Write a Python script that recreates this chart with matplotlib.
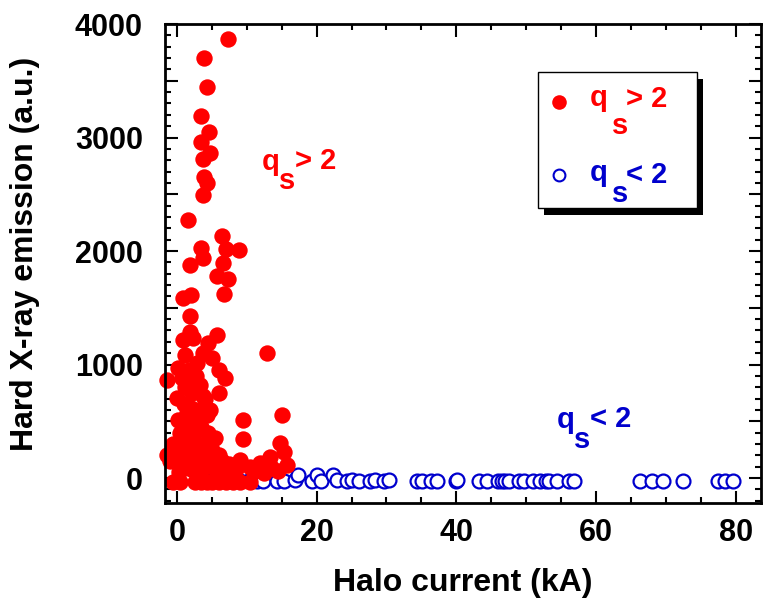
import matplotlib
matplotlib.use("Agg")
import matplotlib.pyplot as plt
from matplotlib.patches import Rectangle
from matplotlib.ticker import MultipleLocator, FuncFormatter

plt.rcParams['font.family'] = ['Liberation Sans', 'DejaVu Sans']
plt.rcParams['font.weight'] = 'bold'

# q_s > 2 : halo current (kA), hard X-ray emission (a.u.)
red_x = [7.3, 3.9, 4.3, 3.4, 4.6, 3.4, 4.7, 3.7, 3.9, 4.3, 3.7, 1.6, 6.4, 3.4, 3.7,
         7.1, 8.9, 1.9, 6.6, 5.7, 7.3, 6.7, 0.9, 2.0, 1.9, 1.9, 0.9, 2.3, 5.7, 4.4,
         1.1, 3.7, 5.0, 12.9, 0.1, 2.9, 6.1, 1.9, -1.4, 6.9, 6.0, 3.7, 0.0, 1.4, 9.4,
         15.1, 0.1, 4.3, 2.9, 9.4, 5.0, 14.7, 15.4, -1.4, 9.0, 13.3, 0.0, 1.9, 3.3,
         11.9, 10.4, 15.7, 8.0, 6.4,
         1.0, 2.0, 3.0, 1.5, 2.5, 3.5, 4.5, 0.5, 1.0, 2.0, 3.0, 4.0, 5.0, 0.5, 1.5,
         2.5, 3.5, 4.5, 6.0, 1.0, 2.0, 3.0, 4.0, 5.5, 0.3, -0.5, -1.0, 0.0, 2.2, 1.2,
         3.3, 4.0, 1.8, 0.8, 2.8, 4.8, 5.5, 6.5, 7.5, 7.0, 8.5, 11.0, 12.5, 14.5, 13.5,
         -0.6, 0.4, 2.6, 3.5, 4.3, 5.0, 6.1, 7.0, 8.0, 9.0, 10.4]
red_y = [3868, 3700, 3445, 3189, 3048, 2960, 2863, 2811, 2652, 2599, 2493, 2273, 2132, 2026, 1938,
         2018, 2009, 1877, 1894, 1780, 1753, 1621, 1586, 1612, 1427, 1286, 1216, 1233, 1260, 1189,
         1084, 1101, 1057, 1101, 969, 1013, 952, 863, 863, 881, 749, 722, 705, 573, 511,
         555, 511, 555, 423, 344, 335, 308, 229, 203, 159, 185, 159, 185, 141,
         132, 97, 115, 44, 0,
         650, 620, 600, 480, 520, 450, 400, 400, 300, 350, 300, 280, 250, 200, 150,
         220, 180, 150, 200, 100, 80, 60, 100, 80, 50, 300, 150, 250, 750, 800,
         820, 700, 950, 880, 900, 600, 350, 150, 120, 50, 80, 60, 40, 60, 100,
         -35, -35, -35, -35, -35, -35, -35, -35, -35, -35, -35]

# q_s < 2
blue_x = [4.5, 6.0, 7.5, 9.0, 10.5, 11.5, 12.3, 14.3, 15.4, 16.9, 17.3, 19.4, 20.0, 20.6,
          22.4, 22.9, 24.4, 25.1, 26.1, 27.6, 28.3, 29.7, 30.4, 34.3, 35.1, 36.4, 37.3,
          40.0, 40.1, 43.3, 44.4, 45.9, 46.6, 46.9, 47.6, 49.0, 49.7, 50.9, 51.9, 52.9,
          53.3, 54.4, 56.1, 56.9, 66.3, 68.0, 69.6, 72.4, 77.5, 78.4, 79.6]
blue_y = [-25, -25, -25, -25, -20, -25, -25, -25, -25, -20, 25, -25, 30, -25,
          30, -20, -25, -20, -25, -25, -20, -25, -20, -25, -25, -25, -25,
          -25, -20, -25, -25, -25, -25, -30, -30, -30, -30, -30, -30, -30,
          -30, -30, -30, -30, -30, -30, -30, -30, -30, -30, -30]

RED = '#ff0000'
BLUE = '#0000cd'
FS = 22


def qs_text(ax, xy, coords, sign, color, s_off, rest_off, size=21):
    """q, lowered subscript s and the '> 2' / '< 2' part."""
    kw = dict(xycoords=coords, textcoords='offset points', color=color,
              fontsize=size, fontweight='bold', ha='left', va='baseline', zorder=8)
    ax.annotate('q', xy, xytext=(0, 0), **kw)
    ax.annotate('s', xy, xytext=s_off, **kw)
    ax.annotate(sign + ' 2', xy, xytext=rest_off, **kw)


fig = plt.figure(figsize=(7.63, 6.06), dpi=100)
ax = fig.add_axes([165 / 763, 103 / 606, 596 / 763, 479 / 606])

ax.plot(blue_x, blue_y, 'o', ms=10, mfc='white', mec=BLUE, mew=1.6, clip_on=False)
ax.plot(red_x, red_y, 'o', ms=11.8, color=RED, mec=RED, mew=0, clip_on=False)

ax.set_xlim(-1.7, 83.6)
ax.set_ylim(-220, 4000)

ax.xaxis.set_major_locator(MultipleLocator(20))
ax.xaxis.set_minor_locator(MultipleLocator(5))
ax.yaxis.set_major_locator(MultipleLocator(500))
ax.yaxis.set_minor_locator(MultipleLocator(100))
ax.yaxis.set_major_formatter(FuncFormatter(lambda v, p: f'{v:.0f}' if v % 1000 == 0 else ''))

ax.tick_params(which='both', direction='in', top=True, right=True, width=1.5)
ax.tick_params(which='major', length=9)
ax.tick_params(which='minor', length=4.5)
ax.tick_params(axis='x', labelsize=FS, pad=11)
ax.tick_params(axis='y', labelsize=FS, pad=16)
for lab in ax.get_xticklabels() + ax.get_yticklabels():
    lab.set_fontweight('bold')
for sp in ax.spines.values():
    sp.set_linewidth(2)

ax.set_xlabel('Halo current (kA)', fontsize=23, fontweight='bold', labelpad=14)
ax.set_ylabel('Hard X-ray emission (a.u.)', fontsize=23, fontweight='bold')
ax.yaxis.set_label_coords(-0.21, 0.52)

# in-plot annotations
qs_text(ax, (12.1, 2714), 'data', '>', RED, (13, -14), (24, 1))
qs_text(ax, (54.3, 440), 'data', '<', BLUE, (13, -14), (24, 1))

# legend box with solid black shadow
ax.add_patch(Rectangle((0.636, 0.601), 0.267, 0.284, transform=ax.transAxes,
                       facecolor='black', edgecolor='none', zorder=5))
ax.add_patch(Rectangle((0.626, 0.616), 0.267, 0.284, transform=ax.transAxes,
                       facecolor='white', edgecolor='black', lw=1, zorder=6))
ax.plot([0.661], [0.838], 'o', ms=10.5, color=RED, mew=0, transform=ax.transAxes, zorder=7)
ax.plot([0.661], [0.685], 'o', ms=8.5, mfc='white', mec=BLUE, mew=1.5,
        transform=ax.transAxes, zorder=7)
qs_text(ax, (0.713, 0.829), 'axes fraction', '>', RED, (16, -20), (26, -1))
qs_text(ax, (0.713, 0.672), 'axes fraction', '<', BLUE, (16, -15), (26, -1))

fig.savefig('out.png', dpi=100)
